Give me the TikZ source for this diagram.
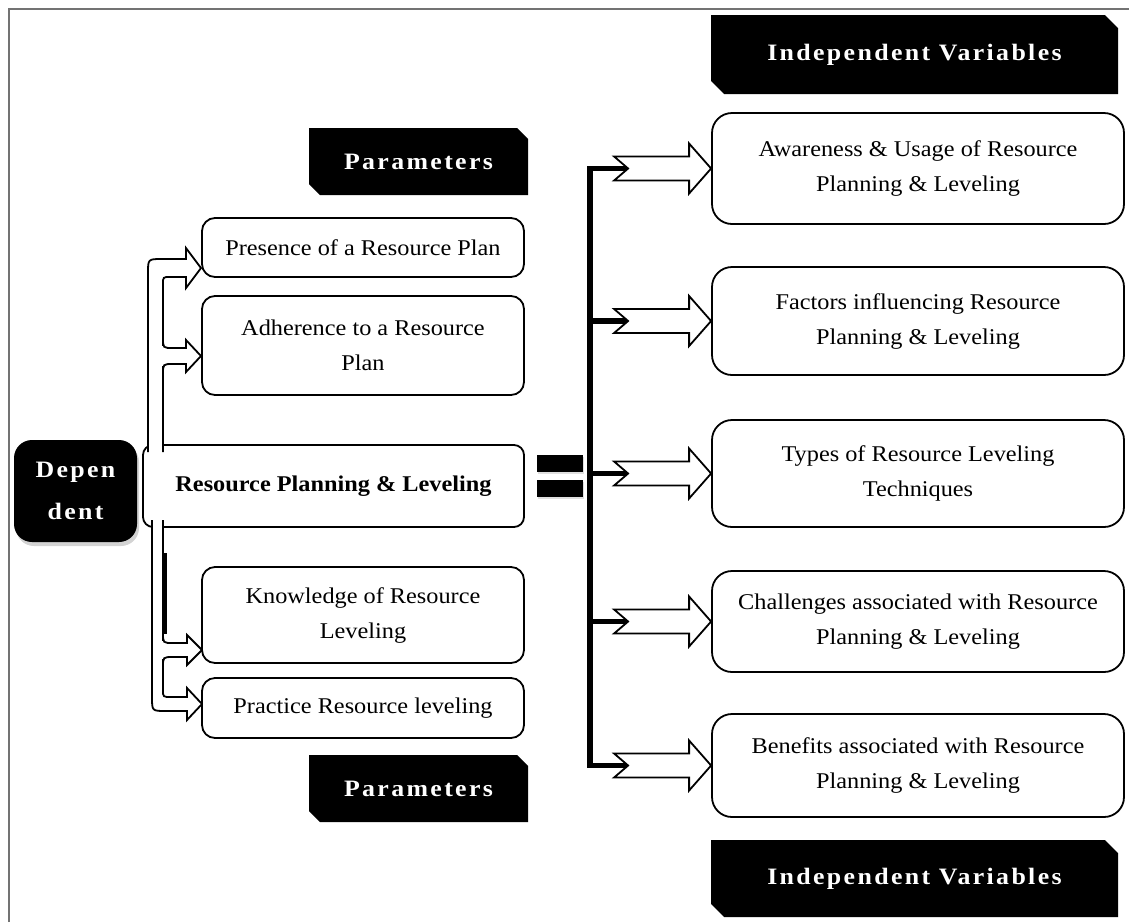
\documentclass[tikz,border=0pt]{standalone}
\usepackage{fontspec}
\setmainfont{Liberation Serif}[FakeStretch=1.08]
\newfontfamily\tagfont{Liberation Serif}[LetterSpace=10, FakeStretch=1.1]
\usetikzlibrary{shapes.misc,shadows}
\begin{document}
\begin{tikzpicture}[x=1pt,y=-1pt,
  frame/.style={draw=black!55, line width=1.3pt},
  box/.style={draw=black, line width=1.8pt, fill=white, align=center,
    inner sep=2pt, font=\fontsize{22.5}{35}\selectfont},
  lbox/.style={box, rounded corners=13pt, minimum width=322pt},
  rbox/.style={box, rounded corners=20pt, minimum width=412pt},
  corebox/.style={box, rounded corners=10pt, minimum width=381pt, minimum height=82pt,
    font=\bfseries\fontsize{22.5}{30}\selectfont},
  tagbox/.style={chamfered rectangle, chamfered rectangle corners={north east,south west},
    chamfered rectangle xsep=10pt, fill=black, text=white, inner sep=0pt,
    font=\tagfont\bfseries\fontsize{23.5}{28}\selectfont},
  depbox/.style={fill=black, rounded corners=18pt, minimum width=123pt, minimum height=102pt,
    text=white, align=center, inner sep=0pt,
    font=\tagfont\bfseries\fontsize{23.5}{42}\selectfont,
    drop shadow={opacity=0.35, shadow xshift=2pt, shadow yshift=-4pt}},
  eqbar/.style={fill=black, minimum width=46pt, minimum height=17pt, inner sep=0pt,
    drop shadow={opacity=0.25, shadow xshift=1pt, shadow yshift=-2pt}},
  blockarrow/.style={draw=black, fill=white, line width=1.8pt, line join=miter},
  bus/.style={line width=5.5pt, line join=miter}
]
\useasboundingbox (0,0) rectangle (1129,922);
\draw[frame] (9,922) -- (9,9) -- (1129,9);

% dependent variable and its central concept
\node[corebox] (core) at (333.5,486) {Resource Planning \& Leveling};
\node[depbox] (dep) at (75.5,491) {Depen\\dent};

% upper stem rising from the core box, bending towards the first parameter
\filldraw[blockarrow] (148,452) -- (148,273) .. controls (148,259) .. (162,259) -- (186,259)
  -- (186,248) -- (201,268) -- (186,288) -- (186,277) -- (170,277)
  .. controls (163,277) .. (163,284) -- (163,452);
% branch off the upper stem towards the second parameter
\fill[white] (155,346) rectangle (170,366);
\filldraw[blockarrow] (163,338) .. controls (163,348) .. (173,348) -- (186,348) -- (186,340)
  -- (201,356) -- (186,372) -- (186,364) -- (173,364) .. controls (163,364) .. (163,374);

% lower stem descending from the core box
\filldraw[blockarrow] (152,520) -- (152,697) .. controls (152,711) .. (166,711) -- (187,711)
  -- (187,720) -- (202,704) -- (187,688) -- (187,697) -- (171,697)
  .. controls (163,697) .. (163,690) -- (163,520);
\draw[line width=2.6pt] (165.5,553) -- (165.5,634);
\fill[white] (156,641) rectangle (170,659);
\filldraw[blockarrow] (163,633) .. controls (163,643) .. (173,643) -- (187,643) -- (187,635)
  -- (202,650) -- (187,665) -- (187,657) -- (173,657) .. controls (163,657) .. (163,667);

% parameters
\node[lbox, minimum height=59pt] (lb1) at (363,247.5) {Presence of a Resource Plan};
\node[lbox, minimum height=99pt] (lb2) at (363,345.5) {Adherence to a Resource\\Plan};
\node[lbox, minimum height=96pt] (lb3) at (363,615) {Knowledge of Resource\\Leveling};
\node[lbox, minimum height=60pt] (lb4) at (363,708) {Practice Resource leveling};

\node[tagbox, minimum width=219pt, minimum height=67pt] (parTop) at (418.5,161.5) {Parameters};
\node[tagbox, minimum width=219pt, minimum height=67pt] (parBot) at (418.5,788.5) {Parameters};

% equals sign
\node[eqbar] (eqa) at (560,463.5) {};
\node[eqbar] (eqb) at (560,488.5) {};

% independent variables
\node[rbox, minimum height=111pt] (r1) at (918,168.5) {Awareness \& Usage of Resource\\Planning \& Leveling};
\node[rbox, minimum height=108pt] (r2) at (918,321) {Factors influencing Resource\\Planning \& Leveling};
\node[rbox, minimum height=107pt] (r3) at (918,473.5) {Types of Resource Leveling\\Techniques};
\node[rbox, minimum height=101pt] (r4) at (918,621.5) {Challenges associated with Resource\\Planning \& Leveling};
\node[rbox, minimum height=103pt] (r5) at (918,765.5) {Benefits associated with Resource\\Planning \& Leveling};

\node[tagbox, minimum width=407pt, minimum height=79pt] (ivTop) at (914.5,54.5) {Independent Variables};
\node[tagbox, minimum width=407pt, minimum height=77pt] (ivBot) at (914.5,878.5) {Independent Variables};

% bus feeding the independent variables
\foreach \i in {1,...,5} {
  \coordinate (bus\i) at (590,0 |- r\i.west);
  \coordinate (notch\i) at ([shift={(-82,0)}]r\i.west);
}
\draw[bus] (notch1) -- (bus1) -- (bus5) -- (notch5);
\foreach \i in {2,3,4} \draw[bus] (bus\i) -- (notch\i);

\foreach \i in {1,...,5}
  \draw[blockarrow] ([shift={(-97,-12)}]r\i.west) -- ([shift={(-22,-12)}]r\i.west)
    -- ([shift={(-22,-25)}]r\i.west) -- (r\i.west) -- ([shift={(-22,25)}]r\i.west)
    -- ([shift={(-22,12)}]r\i.west) -- ([shift={(-97,12)}]r\i.west)
    -- ([shift={(-83,0)}]r\i.west) -- cycle;
\end{tikzpicture}
\end{document}
